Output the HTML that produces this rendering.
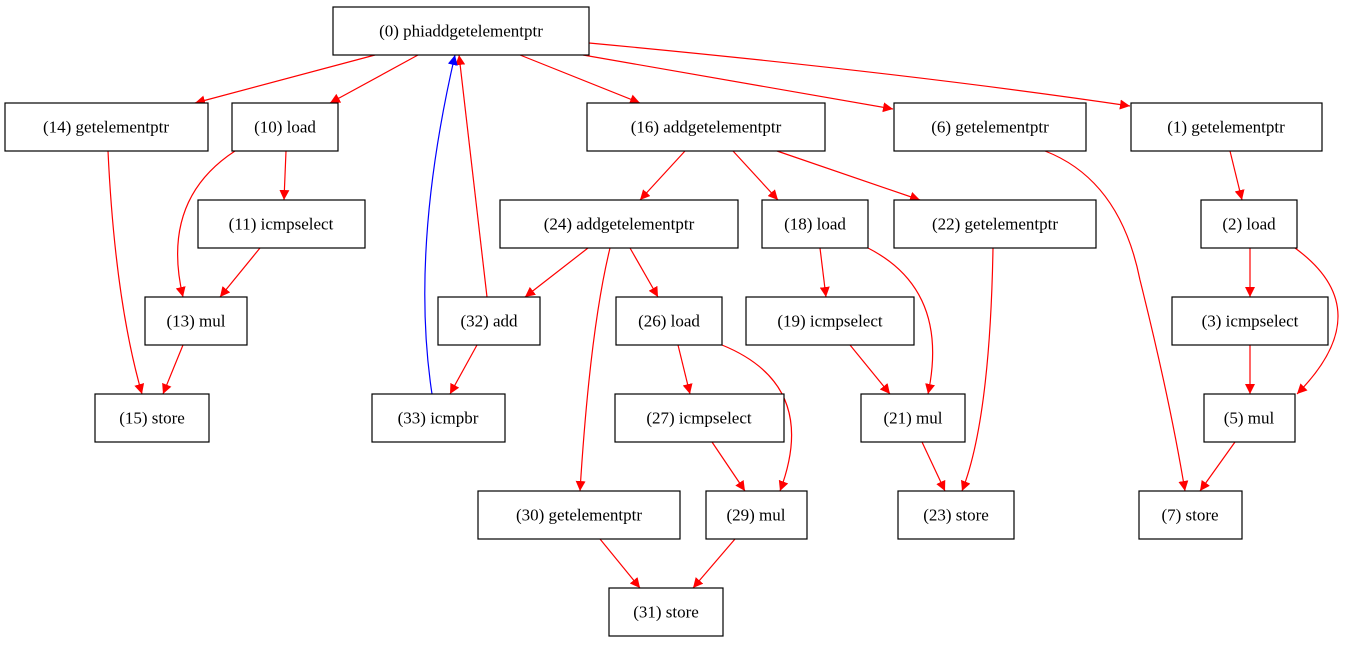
<!DOCTYPE html>
<html><head><meta charset="utf-8"><style>
html,body{margin:0;padding:0;background:#fff;}
svg text{font-family:"Liberation Serif",serif;font-size:17px;text-anchor:middle;dominant-baseline:central;fill:#000;}
</style></head><body>
<svg width="1353" height="644" xmlns="http://www.w3.org/2000/svg">
<defs>
<marker id="r" viewBox="0 0 10 10" refX="10" refY="5" markerWidth="10" markerHeight="10" markerUnits="userSpaceOnUse" orient="auto"><path d="M0,0 L10,5 L0,10 z" fill="red"/></marker>
<marker id="b" viewBox="0 0 10 10" refX="10" refY="5" markerWidth="10" markerHeight="10" markerUnits="userSpaceOnUse" orient="auto"><path d="M0,0 L10,5 L0,10 z" fill="blue"/></marker>
</defs>
<g fill="none" stroke="red" stroke-width="1.2" marker-end="url(#r)">
<path d="M375,55 L195,103"/>
<path d="M418,55 L330,103"/>
<path d="M520,55 L640,103"/>
<path d="M583,55 L893,109"/>
<path d="M589,43 Q900,72 1130,106"/>
<path d="M286,151 L284,200"/>
<path d="M235,151 Q160,200 183,297"/>
<path d="M260,248 L220,297"/>
<path d="M183,345 L163,394"/>
<path d="M108,151 Q115,300 142,394"/>
<path d="M487,297 L459,55"/>
<path d="M588,248 L525,297"/>
<path d="M477,345 L450,394"/>
<path d="M685,151 L640,200"/>
<path d="M733,151 L778,200"/>
<path d="M777,151 L920,200"/>
<path d="M630,248 L658,297"/>
<path d="M610,248 Q590,330 580,491"/>
<path d="M678,345 L690,394"/>
<path d="M722,345 Q820,385 780,491"/>
<path d="M712,442 L745,491"/>
<path d="M820,248 L826,297"/>
<path d="M868,248 Q950,290 928,394"/>
<path d="M850,345 L890,394"/>
<path d="M922,442 L945,491"/>
<path d="M993,248 Q990,420 962,491"/>
<path d="M600,539 L640,588"/>
<path d="M735,539 L693,588"/>
<path d="M1045,151 Q1120,180 1140,280 Q1170,400 1185,491"/>
<path d="M1230,151 L1242,200"/>
<path d="M1250,248 L1250,297"/>
<path d="M1295,248 Q1380,310 1297,394"/>
<path d="M1250,345 L1250,394"/>
<path d="M1235,442 L1200,491"/>
</g>
<path d="M432,394 Q410,250 455,55" fill="none" stroke="blue" stroke-width="1.2" marker-end="url(#b)"/>
<g fill="#fff" stroke="#000" stroke-width="1.2">
<rect x="333" y="7" width="256" height="48"/>
<rect x="5" y="103" width="203" height="48"/>
<rect x="232" y="103" width="106" height="48"/>
<rect x="587" y="103" width="238" height="48"/>
<rect x="894" y="103" width="192" height="48"/>
<rect x="1131" y="103" width="191" height="48"/>
<rect x="198" y="200" width="167" height="48"/>
<rect x="500" y="200" width="238" height="48"/>
<rect x="762" y="200" width="106" height="48"/>
<rect x="894" y="200" width="202" height="48"/>
<rect x="1201" y="200" width="96" height="48"/>
<rect x="145" y="297" width="102" height="48"/>
<rect x="438" y="297" width="102" height="48"/>
<rect x="616" y="297" width="106" height="48"/>
<rect x="746" y="297" width="168" height="48"/>
<rect x="1172" y="297" width="156" height="48"/>
<rect x="95" y="394" width="114" height="48"/>
<rect x="372" y="394" width="133" height="48"/>
<rect x="615" y="394" width="169" height="48"/>
<rect x="861" y="394" width="104" height="48"/>
<rect x="1204" y="394" width="91" height="48"/>
<rect x="478" y="491" width="202" height="48"/>
<rect x="706" y="491" width="101" height="48"/>
<rect x="898" y="491" width="116" height="48"/>
<rect x="1139" y="491" width="103" height="48"/>
<rect x="609" y="588" width="114" height="48"/>
</g>
<text x="461" y="31">(0) phiaddgetelementptr</text>
<text x="106" y="127">(14) getelementptr</text>
<text x="285" y="127">(10) load</text>
<text x="706" y="127">(16) addgetelementptr</text>
<text x="990" y="127">(6) getelementptr</text>
<text x="1226" y="127">(1) getelementptr</text>
<text x="281" y="224">(11) icmpselect</text>
<text x="619" y="224">(24) addgetelementptr</text>
<text x="815" y="224">(18) load</text>
<text x="995" y="224">(22) getelementptr</text>
<text x="1249" y="224">(2) load</text>
<text x="196" y="321">(13) mul</text>
<text x="489" y="321">(32) add</text>
<text x="669" y="321">(26) load</text>
<text x="830" y="321">(19) icmpselect</text>
<text x="1250" y="321">(3) icmpselect</text>
<text x="152" y="418">(15) store</text>
<text x="438" y="418">(33) icmpbr</text>
<text x="699" y="418">(27) icmpselect</text>
<text x="913" y="418">(21) mul</text>
<text x="1249" y="418">(5) mul</text>
<text x="579" y="515">(30) getelementptr</text>
<text x="756" y="515">(29) mul</text>
<text x="956" y="515">(23) store</text>
<text x="1190" y="515">(7) store</text>
<text x="666" y="612">(31) store</text>
</svg>
</body></html>
